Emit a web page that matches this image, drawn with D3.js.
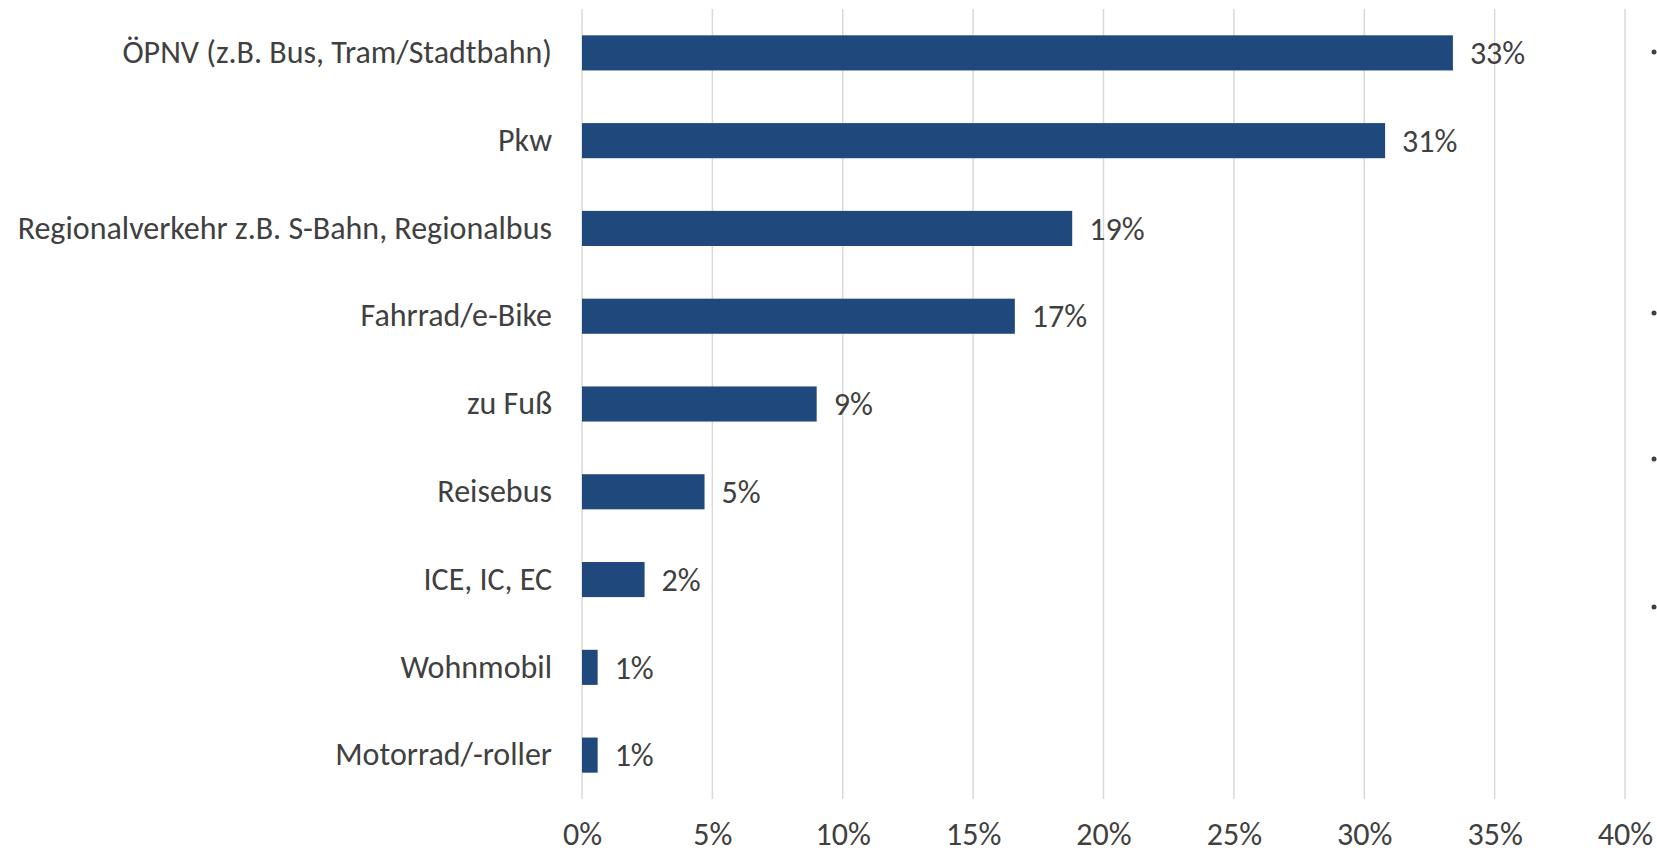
<!DOCTYPE html>
<html lang="de">
<head>
<meta charset="UTF-8">
<title>Verkehrsmittel</title>
<script src="https://d3js.org/d3.v7.min.js"></script>
<style>
  body { margin: 0; background: #fff; }
  svg text { font-family: Carlito, Calibri, Lato, sans-serif; fill: #404040; }
</style>
</head>
<body>
<div class="chartContainer"></div>
<script>
// Daten
const categories = ['ÖPNV (z.B. Bus, Tram/Stadtbahn)', 'Pkw', 'Regionalverkehr z.B. S-Bahn, Regionalbus',
                    'Fahrrad/e-Bike', 'zu Fuß', 'Reisebus', 'ICE, IC, EC', 'Wohnmobil', 'Motorrad/-roller'];
const values = [33.4, 30.8, 18.8, 16.6, 9.0, 4.7, 2.4, 0.6, 0.6];
const ticks = [0, 5, 10, 15, 20, 25, 30, 35, 40];
const bulletRows = [52, 313, 459, 607]; // abgeschnittene Aufzählungspunkte rechts

const width = 1657, height = 854;
const margin = {top: 9, right: 32, bottom: 55, left: 582};
const fontSize = '32px';

const svg = d3.select('.chartContainer').append('svg')
    .attr('width', width).attr('height', height);

const x = d3.scaleLinear().domain([0, 40]).range([margin.left, width - margin.right]);
const y = d3.scaleBand().domain(categories)
    .range([margin.top, height - margin.bottom])
    .paddingInner(0.6).paddingOuter(0.3);

// Gitternetz
svg.append('g').selectAll('line').data(ticks).enter().append('line')
    .attr('x1', d => x(d)).attr('x2', d => x(d))
    .attr('y1', margin.top).attr('y2', height - margin.bottom)
    .attr('stroke', '#d9d9d9').attr('stroke-width', 1.5);

// x-Achse Beschriftung
const xAxis = svg.append('g')
    .attr('transform', `translate(0, ${height - margin.bottom})`)
    .call(d3.axisBottom(x).tickValues(ticks).tickFormat(d => d + '%').tickSize(0).tickPadding(23));
xAxis.select('.domain').remove();
xAxis.selectAll('text').style('font-size', fontSize).attr('fill', '#404040');

// y-Achse Beschriftung
const yAxis = svg.append('g')
    .attr('transform', `translate(${margin.left - 30}, 0)`)
    .call(d3.axisLeft(y).tickSize(0).tickPadding(0));
yAxis.select('.domain').remove();
yAxis.selectAll('text').style('font-size', fontSize).attr('fill', '#404040');

// Balken
const rows = categories.map((c, i) => ({cat: c, val: values[i]}));
svg.append('g').selectAll('rect').data(rows).enter().append('rect')
    .attr('x', x(0))
    .attr('y', d => y(d.cat))
    .attr('width', d => x(d.val) - x(0))
    .attr('height', y.bandwidth())
    .attr('fill', '#1f497d');

// Werte
svg.append('g').selectAll('text').data(rows).enter().append('text')
    .attr('x', d => x(d.val) + 17)
    .attr('y', d => y(d.cat) + y.bandwidth() / 2)
    .attr('dy', '0.35em')
    .style('font-size', fontSize)
    .text(d => Math.round(d.val) + '%');

// Punkte am rechten Rand
svg.append('g').selectAll('circle').data(bulletRows).enter().append('circle')
    .attr('cx', 1654).attr('cy', d => d).attr('r', 2.5).attr('fill', '#404040');
</script>
</body>
</html>
